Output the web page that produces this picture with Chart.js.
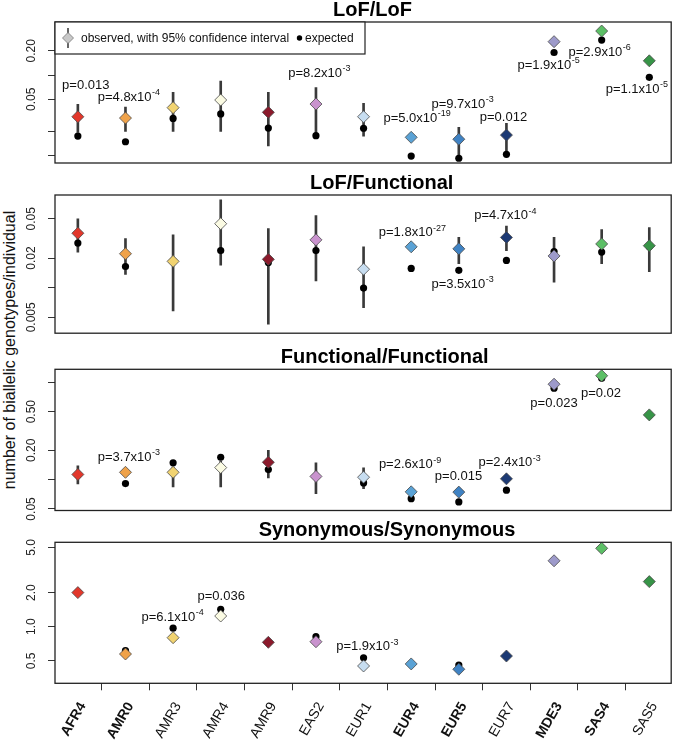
<!DOCTYPE html>
<html><head><meta charset="utf-8">
<script src="https://cdn.jsdelivr.net/npm/chart.js@4.4.1/dist/chart.umd.min.js"></script>
<style>
html,body{margin:0;padding:0;background:#fff;width:678px;height:745px;overflow:hidden;position:relative;}
canvas{position:absolute;left:0;}
#ylab{position:absolute;left:10px;top:350px;transform:translate(-50%,-50%) rotate(-90deg);white-space:nowrap;font:16px 'Liberation Sans',Arial,Helvetica,sans-serif;color:#111;}
</style></head><body>
<div id="ylab">number of biallelic genotypes/individual</div>
<canvas id="c1" width="678" height="175" style="top:0px"></canvas>
<canvas id="c2" width="678" height="165" style="top:175px"></canvas>
<canvas id="c3" width="678" height="185" style="top:340px"></canvas>
<canvas id="c4" width="678" height="230" style="top:515px"></canvas>
<script>
// ---------- data ----------
const categories = ['AFR4','AMR0','AMR3','AMR4','AMR9','EAS2','EUR1','EUR4','EUR5','EUR7','MDE3','SAS4','SAS5'];
const boldCategories = ['AFR4','AMR0','EUR4','EUR5','MDE3','SAS4'];
const pointColors = ['#E2372B','#EFA24A','#F1D371','#FBFBE3','#8B1A2C','#C993CE','#C7DDF0','#5AA2D5','#3F82C3','#1D3A74','#9D9ACA','#5CBF66','#379447'];

// LoF/LoF
const lofLofObserved = [0.0304,0.0293,0.0394,0.049,0.0345,0.0437,0.0304,0.0169,0.016,0.018,0.259,0.351,0.150];
const lofLofExpected = [0.0175,0.0149,0.029,0.0329,0.022,0.0177,0.0219,0.0099,0.0093,0.0104,0.19,0.271,0.0936];
const lofLofLow  = [0.0195,0.020,0.020,0.020,0.0132,0.019,0.0175,null,0.0095,0.0105,null,null,0.133];
const lofLofHigh = [0.0434,0.040,0.061,0.084,0.061,0.070,0.0446,null,0.0225,0.0252,null,null,0.166];
const lofLofTicks = [0.01,0.02,0.05,0.1,0.2];
const lofLofTickLabels = ['','','0.05','','0.20'];
const lofLofPLabels = [
  [0.166,0.0752,'p=0.013',''],[1.072,0.0534,'p=4.8x10','-4'],[5.072,0.106,'p=8.2x10','-3'],
  [7.124,0.0293,'p=5.0x10','-19'],[8.08,0.0437,'p=9.7x10','-3'],[8.937,0.0301,'p=0.012',''],
  [9.885,0.133,'p=1.9x10','-5'],[10.958,0.193,'p=2.9x10','-6'],[11.739,0.067,'p=1.1x10','-5']];

// LoF/Functional
const lofFunObserved = [0.0357,0.0221,0.0185,0.0446,0.0194,0.0306,0.0154,0.026,0.0248,0.0324,0.021,0.0278,0.0267];
const lofFunExpected = [0.0284,0.0164,0.0187,0.0238,0.018,0.0238,0.0099,0.0157,0.015,0.0189,0.0233,0.023,0.0262];
const lofFunLow  = [0.023,0.0136,0.0058,0.0169,0.00427,0.0117,0.00626,null,0.0175,0.0238,0.0114,0.0175,0.0145];
const lofFunHigh = [0.050,0.0316,0.0344,0.078,0.0398,0.054,0.026,null,0.0324,0.0422,0.0324,0.039,0.0407];
const lofFunTicks = [0.005,0.01,0.02,0.05];
const lofFunTickLabels = ['0.005','','0.02','0.05'];
const lofFunPLabels = [
  [7.026,0.0363,'p=1.8x10','-27'],[8.08,0.0109,'p=3.5x10','-3'],[8.978,0.0539,'p=4.7x10','-4']];

// Functional/Functional
const funFunObserved = [0.113,0.119,0.119,0.133,0.151,0.108,0.106,0.075,0.0745,0.102,0.957,1.17,0.463];
const funFunExpected = [0.112,0.0912,0.149,0.17,0.127,0.109,0.0926,0.0637,0.059,0.078,0.87,1.10,0.46];
const funFunLow  = [0.0906,null,0.0844,0.084,0.104,0.0716,0.081,null,null,null,null,null,null];
const funFunHigh = [0.139,null,0.135,0.155,0.2,0.149,0.132,null,null,null,null,null,null];
const funFunTicks = [0.05,0.1,0.2,0.5,1];
const funFunTickLabels = ['0.05','','0.20','0.50',''];
const funFunPLabels = [
  [1.072,0.171,'p=3.7x10','-3'],[6.976,0.143,'p=2.6x10','-9'],[7.993,0.108,'p=0.015',''],
  [9.068,0.149,'p=2.4x10','-3'],[9.999,0.612,'p=0.023',''],[10.985,0.774,'p=0.02','']];

// Synonymous/Synonymous
const synSynObserved = [2.0,0.574,0.80,1.243,0.728,0.737,0.45,0.469,0.421,0.551,3.82,4.92,2.5];
const synSynExpected = [2.0,0.614,0.97,1.424,0.73,0.816,0.532,0.47,0.459,0.55,3.82,4.9,2.5];
const synSynLow  = [null,null,null,null,null,null,null,null,null,null,null,null,null];
const synSynHigh = [null,null,null,null,null,null,null,null,null,null,null,null,null];
const synSynTicks = [0.5,1,2,5];
const synSynTickLabels = ['0.5','1.0','2.0','5.0'];
const synSynPLabels = [
  [1.989,1.21,'p=6.1x10','-4'],[3.01,1.866,'p=0.036',''],[6.08,0.666,'p=1.9x10','-3']];

// ---------- layout / style ----------
const FAMILY = "'Liberation Sans', Arial, Helvetica, sans-serif";
Chart.defaults.font.family = FAMILY;
const X_MIN = -0.48, X_MAX = 12.46;

const panels = [
  {id:'c1', title:'LoF/LoF', titleX:372.5, titleY:16, obs:lofLofObserved, exp:lofLofExpected, lo:lofLofLow, hi:lofLofHigh,
   yTicks:lofLofTicks, yLabels:lofLofTickLabels, pLabels:lofLofPLabels, yMin:0.00812, yMax:0.454, legend:true, showX:false, padTop:22, padBottom:12},
  {id:'c2', title:'LoF/Functional', titleX:381.7, titleY:14.3, obs:lofFunObserved, exp:lofFunExpected, lo:lofFunLow, hi:lofFunHigh,
   yTicks:lofFunTicks, yLabels:lofFunTickLabels, pLabels:lofFunPLabels, yMin:0.00345, yMax:0.0873, legend:false, showX:false, padTop:20, padBottom:4},
  {id:'c3', title:'Functional/Functional', titleX:384.7, titleY:22.7, obs:funFunObserved, exp:funFunExpected, lo:funFunLow, hi:funFunHigh,
   yTicks:funFunTicks, yLabels:funFunTickLabels, pLabels:funFunPLabels, yMin:0.0482, yMax:1.362, legend:false, showX:false, padTop:29.3, padBottom:14.5},
  {id:'c4', title:'Synonymous/Synonymous', titleX:387, titleY:21, obs:synSynObserved, exp:synSynExpected, lo:synSynLow, hi:synSynHigh,
   yTicks:synSynTicks, yLabels:synSynTickLabels, pLabels:synSynPLabels, yMin:0.3165, yMax:5.56, legend:false, showX:true, padTop:27.3, padBottom:0, xHeight:61.7}
];

function diamond(ctx, x, y, r, fill, stroke) {
  ctx.beginPath();
  ctx.moveTo(x - r, y); ctx.lineTo(x, y - r); ctx.lineTo(x + r, y); ctx.lineTo(x, y + r); ctx.closePath();
  ctx.fillStyle = fill; ctx.fill();
  ctx.lineWidth = 0.8; ctx.strokeStyle = stroke; ctx.stroke();
}

const deco = {
  id: 'deco',
  afterDraw(chart, args, o) {
    const ctx = chart.ctx, a = chart.chartArea, xs = chart.scales.x, ys = chart.scales.y;
    ctx.save();
    ctx.strokeStyle = '#222'; ctx.lineWidth = 1.3;
    ctx.strokeRect(a.left, a.top, a.right - a.left, a.bottom - a.top);
    // y tick labels (rotated, as in the original)
    ctx.fillStyle = '#222'; ctx.font = '12px ' + FAMILY;
    ctx.textAlign = 'center'; ctx.textBaseline = 'middle';
    ys.ticks.forEach(t => {
      const k = o.yTicks.indexOf(t.value);
      const lab = k >= 0 ? o.yLabels[k] : '';
      if (!lab) return;
      const py = ys.getPixelForValue(t.value);
      ctx.save(); ctx.translate(32, py); ctx.rotate(-Math.PI / 2); ctx.fillText(lab, 0, 0); ctx.restore();
    });
    // title
    ctx.fillStyle = '#000'; ctx.font = 'bold 20px ' + FAMILY;
    ctx.textAlign = 'center'; ctx.textBaseline = 'alphabetic';
    ctx.fillText(o.title, o.titleX, o.titleY);
    // p-value labels
    ctx.fillStyle = '#111'; ctx.textAlign = 'left'; ctx.textBaseline = 'middle';
    o.pLabels.forEach(([xv, yv, base, ex]) => {
      const px = xs.getPixelForValue(xv), py = ys.getPixelForValue(yv);
      ctx.font = '13px ' + FAMILY; const w1 = ctx.measureText(base).width;
      let w2 = 0;
      if (ex) { ctx.font = '9px ' + FAMILY; w2 = ctx.measureText(ex).width + 0.5; }
      const left = px - (w1 + w2) / 2;
      ctx.font = '13px ' + FAMILY; ctx.fillText(base, left, py);
      if (ex) { ctx.font = '9px ' + FAMILY; ctx.fillText(ex, left + w1 + 0.5, py - 4.5); }
    });
    // legend
    if (o.legend) {
      const lx = a.left, ly = a.top, lw = 310, lh = 32;
      ctx.fillStyle = '#fff'; ctx.fillRect(lx, ly, lw, lh);
      ctx.strokeStyle = '#222'; ctx.lineWidth = 1.2; ctx.strokeRect(lx, ly, lw, lh);
      const cy = ly + 16;
      ctx.strokeStyle = '#333'; ctx.lineWidth = 1.5;
      ctx.beginPath(); ctx.moveTo(lx + 13, cy - 10); ctx.lineTo(lx + 13, cy + 10); ctx.stroke();
      diamond(ctx, lx + 13, cy, 5.5, '#C8C8C8', '#777');
      ctx.fillStyle = '#111'; ctx.font = '12px ' + FAMILY; ctx.textAlign = 'left'; ctx.textBaseline = 'middle';
      ctx.fillText('observed, with 95% confidence interval', lx + 26, cy + 0.5);
      ctx.beginPath(); ctx.arc(lx + 244.5, cy, 2.7, 0, Math.PI * 2); ctx.fillStyle = '#000'; ctx.fill();
      ctx.fillStyle = '#111'; ctx.fillText('expected', lx + 250, cy + 0.5);
    }
    ctx.restore();
  }
};

panels.forEach(p => {
  const errData = categories.map((c, i) => (p.lo[i] == null ? null : {x: i, y: [p.lo[i], p.hi[i]]})).filter(d => d);
  const obsData = categories.map((c, i) => ({x: i, y: p.obs[i]}));
  const expData = categories.map((c, i) => ({x: i, y: p.exp[i]}));
  new Chart(document.getElementById(p.id), {
    type: 'scatter',
    data: {
      datasets: [
        {type: 'bar', data: errData, backgroundColor: '#3a3a3a', borderWidth: 0, barThickness: 2, order: 3},
        {type: 'scatter', data: expData, pointStyle: 'circle', pointRadius: 3.6, pointBackgroundColor: '#000', pointBorderWidth: 0, order: 2, clip: false},
        {type: 'scatter', data: obsData, pointStyle: 'rectRot', pointRadius: 6, pointBackgroundColor: pointColors,
         pointBorderColor: '#4a4a4a', pointBorderWidth: 0.8, order: 1, clip: false}
      ]
    },
    options: {
      responsive: false, animation: false, devicePixelRatio: 1, events: [],
      layout: {padding: {top: p.padTop, bottom: p.padBottom, left: 0, right: 2}},
      plugins: {
        legend: {display: false}, tooltip: {enabled: false},
        deco: {title: p.title, titleX: p.titleX, titleY: p.titleY, yTicks: p.yTicks, yLabels: p.yLabels, pLabels: p.pLabels, legend: p.legend}
      },
      scales: {
        x: {
          type: 'linear', min: X_MIN, max: X_MAX, bounds: 'data', offset: false, display: p.showX,
          afterBuildTicks: s => { s.ticks = categories.map((c, i) => ({value: i})); },
          afterFit: s => { if (p.showX) s.height = p.xHeight; s.paddingLeft = 0; s.paddingRight = 0; },
          ticks: {
            autoSkip: false, minRotation: 60, maxRotation: 60, padding: 9, labelOffset: 5, color: '#111',
            callback: (v, i) => categories[i],
            font: c => ({family: FAMILY, size: 14, weight: boldCategories.includes(categories[c.index]) ? 'bold' : 'normal'})
          },
          grid: {drawOnChartArea: false, drawTicks: true, tickLength: 7, color: '#333', lineWidth: 1},
          border: {display: false}
        },
        y: {
          type: 'logarithmic', min: p.yMin, max: p.yMax, bounds: 'data', position: 'left',
          afterBuildTicks: s => { s.ticks = p.yTicks.map(v => ({value: v})); },
          afterFit: s => { s.width = 55; s.paddingTop = 0; s.paddingBottom = 0; },
          ticks: {display: false},
          grid: {drawOnChartArea: false, drawTicks: true, tickLength: 7, color: '#333', lineWidth: 1},
          border: {display: false}
        }
      }
    },
    plugins: [deco]
  });
});
</script>
</body></html>
